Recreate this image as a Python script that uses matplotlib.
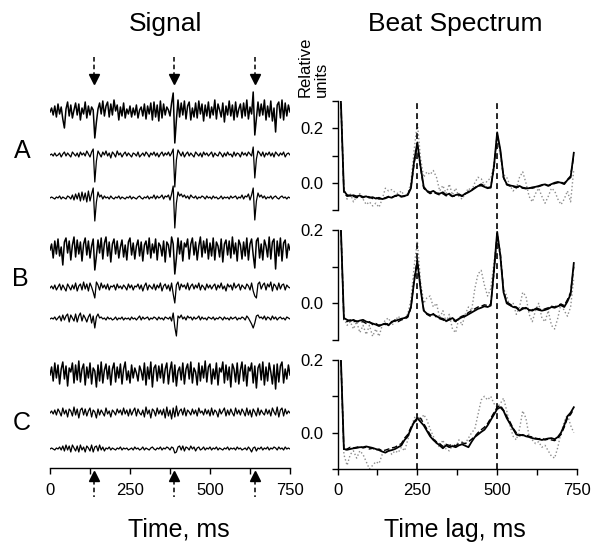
import numpy as np
import matplotlib
matplotlib.use('Agg')
import matplotlib.pyplot as plt

plt.rcParams['font.family'] = ['Liberation Sans', 'DejaVu Sans']

# ---- signal traces (5 ms per sample, amplitude in pixel-like units) ----
sig_t = np.arange(0, 751, 5)

a1 = [0, 4, -3, 6, -5, 8, -2, 5, -7, -16, 3, 10, -4, 7, -6, 2, 9, -3, 8, -8, 4, -2, 10, -6, 6,
      -3, 5, 2, -26, -10, 3, 9, -2, 11, -4, 6, 10, -5, 8, -3, 12, 1, 7, -8, 5, -4, 9, -6, 3, -2,
      6, -5, 4, -3, 7, -6, 2, 5, -4, 8, -7, 6, -2, 9, -8, 10, -5, 7, -9, 11, -6, 8, -3, 5, 2,
      -4, 9, 19, -31, -8, 12, -5, 9, -3, 11, -7, 6, 10, -8, 4, -5, 9, -6, 11, -2, 8, -9, 7, -4, 10,
      -6, 5, -3, 12, -7, 8, 2, -5, 9, -10, 6, -3, 11, -4, 7, -8, 10, -5, 3, 8, -6, 9, -4, 12, -7,
      5, -2, 20, -23, -6, 10, -4, 8, -3, 12, -8, 6, -5, 11, -9, 4, -20, 7, 10, -6, 12, -8, 9, -4, 7, 0]
a2 = [0, 1, -1, 2, -1, 0, 2, -2, 1, 3, -1, 2, 0, -2, 3, 1, -1, 2, -2, 3, 0, 2, -1, 4, 1,
      -2, 3, 6, -27, -6, 4, 1, -2, 3, 0, 4, -1, 2, -3, 3, 1, -2, 4, 0, 2, -2, 1, 3, -1, 2,
      0, -2, 2, 1, -1, 3, -2, 0, 2, -1, 3, 1, -2, 2, 0, 3, -1, 2, -2, 1, 3, -1, 2, 0, 3,
      -1, 2, 6, -32, -5, 5, 2, -1, 3, -2, 1, 3, -1, 2, 0, -2, 3, 1, -1, 2, -2, 3, 0, 2, -1,
      1, 3, -2, 2, 0, -1, 3, 1, -2, 2, -1, 3, 0, 1, -2, 3, -1, 2, 1, -2, 3, 0, 2, -1, 3,
      1, -1, 8, -23, -4, 4, 2, -1, 3, -2, 2, 0, 3, -1, 2, -2, 3, 1, -1, 2, 0, 3, -2, 1, 2, 0]
a3 = [0, 1, 0, -1, 1, 0, 2, -1, 1, 0, -1, 2, 1, -1, 3, -2, 4, -1, 5, -3, 6, -2, 5, -4, 7,
      -3, 4, 10, -23, -4, 6, 1, 3, -1, 2, 0, 1, -1, 2, 0, -1, 1, 0, 2, -1, 1, 0, -1, 1, 0,
      2, -1, 1, 0, -1, 1, 2, 0, -1, 1, 0, 2, -1, 1, 0, 3, -1, 2, 0, 1, 3, -1, 2, 1, 3,
      -2, 4, 12, -30, -5, 6, 2, 4, 1, 3, 0, 2, -1, 3, 1, 0, 2, -1, 1, 0, 2, 1, -1, 2, 0,
      1, -1, 2, 0, 1, -1, 0, 2, -1, 1, 0, 1, -1, 2, 0, 1, 2, -1, 1, 0, 3, -1, 2, 1, 4,
      -2, 3, 10, -22, -3, 5, 1, 3, 0, 2, -1, 1, 0, 2, -1, 1, 2, 0, -1, 1, 2, 0, 1, -1, 1, 0]
b1 = [0, 6, -8, 9, -4, 11, -6, 3, -15, 8, 12, -3, 9, -10, 5, 13, -7, 10, -4, 8, -11, 6, 12, -5, 9,
      -8, 4, 11, -20, -6, 10, -3, 12, -9, 7, 13, -6, 8, -12, 6, 11, -4, 9, -8, 3, 10, -7, 5, -10, 8,
      12, -5, 7, -9, 4, 10, -6, 8, -11, 5, 9, -4, 12, -8, 6, -3, 11, -10, 7, 4, -6, 9, -12, 8, 5,
      -7, 13, 6, -24, -8, 12, -4, 9, -11, 7, 3, 11, -9, 6, 12, -5, 8, -10, 4, 13, -7, 9, -3, 11, -9,
      7, -6, 12, -10, 8, 4, -7, 11, -12, 6, 10, -5, 9, -8, 13, -4, 7, -11, 10, 5, -9, 8, -6, 12, -10,
      6, 11, -5, -18, 9, 12, -8, 6, -10, 10, 4, -7, 13, -9, 8, 11, -19, 9, -6, 12, -11, 7, 10, -8, 6, 0]
b2 = [0, 2, -1, 3, -2, 1, 4, -2, 3, 0, -3, 4, 1, -2, 3, -1, 5, -3, 2, 4, -2, 6, -1, 4, -3,
      5, 1, -4, -10, 6, 3, -2, 5, 0, 3, -1, 4, -2, 2, 1, 3, -2, 4, 0, 2, -1, 3, 1, -2, 4,
      0, 3, -2, 2, 1, 4, -1, 3, -3, 2, 5, -2, 3, 1, -1, 4, -2, 3, 0, 5, -3, 2, 4, -1, 3,
      -3, 5, -6, -15, 3, 6, -2, 4, 1, 3, -1, 5, -2, 2, 4, -1, 3, 0, 5, -2, 3, 1, -2, 4, 0,
      3, -1, 2, 4, -2, 3, 0, 5, -1, 2, -3, 4, 1, 3, -2, 5, 0, 2, 4, -2, 3, 1, -1, 4, 2,
      -2, 5, -3, -8, -10, 4, 6, -1, 3, 5, -2, 4, 1, 6, -3, 4, 2, -2, 5, -1, 3, 4, -2, 3, 1, 0]
b3 = [0, 1, 0, 2, -1, 1, 3, -2, 4, -1, 3, 5, -3, 4, 1, -2, 5, -3, 3, 6, -2, 4, 1, -3, 2,
      5, -4, 3, -9, 2, 5, 1, 2, 0, 1, -1, 2, 0, 1, -1, 0, 2, -1, 1, 0, 2, -1, 1, 0, 1,
      -1, 2, 0, 1, -1, 1, 3, -1, 2, 0, 1, 2, -1, 1, 0, 2, 1, -1, 2, 0, 1, -1, 2, 1, 0,
      2, -2, 6, -8, -17, 3, 1, 4, 0, 2, -1, 3, 1, 2, -1, 2, 0, 1, 3, -1, 2, 0, 1, -1, 2,
      1, 0, 2, -1, 1, 0, 2, 1, -1, 2, 0, 1, -1, 2, 0, 1, 2, -1, 1, 0, 2, 1, -1, 3, 1,
      -2, -5, -9, -4, 3, 4, 1, 2, 0, 3, -1, 2, 1, -1, 3, 0, 2, -1, 1, 2, 0, 1, -1, 2, 1, 0]
c1 = [0, 8, -6, 12, -3, 10, -9, 6, 13, -4, 9, -11, 7, 3, 12, -8, 10, -5, 14, -7, 6, 11, -10, 8, -3,
      12, -9, 7, 4, -12, 10, -6, 13, -8, 5, 11, -4, 9, -10, 6, 12, -7, 8, -3, 11, -9, 6, 13, -5, 4,
      -8, 10, -3, 7, 2, -6, 9, 4, -5, 12, -10, 8, -4, 13, -12, 7, 10, -6, 9, -3, 11, -8, 6, 12, -9,
      5, 13, -7, 10, -11, 4, 8, -5, 12, -9, 6, 11, -4, 13, -8, 7, 3, -10, 12, -6, 9, -3, 14, -7, 8,
      11, -9, 6, -4, 12, -10, 7, 3, 13, -8, 10, -5, 8, -12, 11, 6, -7, 12, -9, 5, 13, -6, 10, -11, 8,
      4, 12, -8, 9, -13, 7, 11, -5, 13, -10, 8, -6, 12, 3, -9, 10, -14, 11, -7, 9, 13, -8, 6, -4, 10, 0]
c2 = [0, 2, -1, 3, -2, 4, 1, -3, 5, -1, 3, -4, 4, 2, -3, 6, -2, 4, -5, 3, 5, -2, 4, -3, 2,
      5, -4, 3, 1, -5, 4, -2, 3, 0, -3, 5, -1, 2, -4, 3, 1, -2, 4, 0, 3, -2, 5, -1, 3, -3,
      4, -2, 2, 5, -3, 4, 0, -2, 3, -4, 6, -1, 3, -5, 4, 2, -3, 5, -1, 3, -2, 4, -5, 6, -3,
      3, -6, 5, -4, 7, -3, 2, 4, -2, 5, -3, 3, 1, -2, 4, -1, 3, -3, 5, 0, 2, -2, 4, -1, 3,
      -3, 5, -2, 3, 1, -4, 4, -1, 2, 5, -3, 3, -2, 4, 0, -3, 5, -1, 3, -2, 4, 1, -3, 5, -2,
      3, -4, 4, 1, -3, 5, -2, 3, 0, -2, 4, -1, 3, -3, 5, 1, -2, 6, -4, 3, 5, -3, 4, -1, 2, 0]
c3 = [0, 1, 0, -1, 1, 0, 2, -1, 3, -2, 4, -1, 3, -3, 4, 1, -2, 3, -3, 4, -1, 2, -3, 3, 1,
      -2, 4, -3, 2, 3, -2, 4, -1, 2, -2, 1, 0, 2, -1, 1, 0, -1, 1, 0, 2, -1, 1, 0, 1, -1,
      0, 1, -1, 2, 0, 1, -1, 0, 2, -1, 1, 0, -1, 1, 2, 0, -1, 1, 0, 2, -1, 1, 0, 2, 1,
      -1, 2, 1, -4, -3, 2, 3, -1, 3, -2, 2, 1, -1, 3, 0, 2, -2, 1, 2, -1, 0, 2, -1, 1, 0,
      2, -1, 1, 0, 2, -1, 1, 0, -1, 1, 0, 2, -1, 1, 0, 1, -1, 2, 0, 1, -1, 0, 1, -1, 2,
      0, -3, 1, 2, -2, 1, 0, 2, -1, 1, 0, 2, -1, 1, 0, 2, 1, -1, 2, 0, 1, -1, 2, 0, 1, 0]

beat_marks = [139, 389, 640]
group_labels = ['A', 'B', 'C']

# ---- beat spectra (lag step 10 ms) ----
lag = np.arange(10, 741, 10)

spec_a_solid = [0.32, -0.03, -0.045, -0.048, -0.046, -0.05, -0.047, -0.052, -0.05, -0.055,
                -0.053, -0.058, -0.055, -0.06, -0.057, -0.052, -0.055, -0.048, -0.045, -0.05,
                -0.048, -0.045, -0.02, 0.08, 0.148, 0.06, -0.015, -0.03, -0.035, -0.03,
                -0.038, -0.04, -0.035, -0.045, -0.04, -0.05, -0.045, -0.042, -0.048, -0.04,
                -0.035, -0.028, -0.02, -0.012, -0.01, -0.015, -0.02, -0.018, 0.06, 0.185,
                0.12, 0.02, -0.005, -0.01, -0.012, -0.015, -0.012, -0.018, -0.02, -0.02,
                -0.017, -0.015, -0.012, -0.008, -0.006, -0.01, -0.005, 0.0, 0.003, 0.0,
                -0.005, 0.01, 0.02, 0.11]
spec_a_dash = [0.32, -0.035, -0.05, -0.045, -0.05, -0.055, -0.05, -0.055, -0.048, -0.052,
               -0.058, -0.055, -0.06, -0.058, -0.055, -0.05, -0.052, -0.05, -0.048, -0.052,
               -0.05, -0.042, -0.015, 0.07, 0.14, 0.055, -0.02, -0.032, -0.04, -0.035,
               -0.04, -0.045, -0.04, -0.048, -0.045, -0.05, -0.048, -0.045, -0.05, -0.042,
               -0.032, -0.025, -0.018, -0.01, -0.005, -0.012, -0.018, -0.015, 0.055, 0.178,
               0.115, 0.018, -0.008, -0.012, -0.015, -0.018, -0.015, -0.02, -0.022, -0.018,
               -0.02, -0.017, -0.014, -0.01, -0.008, -0.012, -0.008, -0.003, 0.0, 0.002,
               -0.002, 0.012, 0.025, 0.1]
spec_a_dot = [0.32, -0.02, -0.06, -0.04, -0.07, -0.05, -0.04, -0.06, -0.08, -0.07,
              -0.085, -0.075, -0.09, -0.06, -0.02, -0.03, -0.025, -0.035, -0.04, -0.03,
              -0.05, -0.04, 0.0, 0.12, 0.22, 0.09, 0.02, 0.04, 0.03, 0.045,
              0.02, -0.03, -0.01, -0.04, -0.005, -0.045, -0.02, -0.05, -0.06, -0.04,
              -0.02, -0.03, 0.0, 0.02, 0.015, -0.01, 0.01, 0.015, 0.07, 0.17,
              0.1, 0.03, 0.02, -0.01, -0.03, -0.02, 0.02, 0.04, 0.0, -0.05,
              -0.07, -0.04, -0.02, -0.05, -0.075, -0.05, -0.02, -0.03, -0.06, -0.08,
              -0.06, -0.03, -0.07, 0.05]

spec_b_solid = [0.22, -0.04, -0.045, -0.048, -0.045, -0.05, -0.047, -0.045, -0.05, -0.052,
                -0.055, -0.058, -0.062, -0.058, -0.055, -0.06, -0.05, -0.048, -0.045, -0.042,
                -0.04, -0.035, -0.01, 0.06, 0.115, 0.04, -0.02, -0.028, -0.032, -0.03,
                -0.035, -0.04, -0.042, -0.048, -0.045, -0.04, -0.048, -0.042, -0.038, -0.035,
                -0.03, -0.025, -0.02, -0.015, -0.012, -0.008, -0.01, -0.006, 0.09, 0.195,
                0.13, 0.03, 0.0, -0.005, -0.01, -0.012, -0.02, -0.015, -0.012, -0.018,
                -0.02, -0.015, -0.018, -0.02, -0.018, -0.015, -0.01, -0.012, -0.008, -0.005,
                -0.01, 0.005, 0.025, 0.11]
spec_b_dash = [0.22, -0.045, -0.05, -0.045, -0.05, -0.048, -0.052, -0.05, -0.055, -0.05,
               -0.058, -0.055, -0.06, -0.055, -0.058, -0.055, -0.052, -0.045, -0.05, -0.045,
               -0.043, -0.038, -0.012, 0.065, 0.12, 0.045, -0.018, -0.03, -0.035, -0.028,
               -0.038, -0.042, -0.045, -0.05, -0.042, -0.045, -0.05, -0.04, -0.035, -0.032,
               -0.025, -0.02, -0.015, -0.01, -0.008, -0.004, -0.006, -0.002, 0.085, 0.19,
               0.135, 0.035, 0.004, -0.002, -0.008, -0.01, -0.018, -0.012, -0.015, -0.02,
               -0.018, -0.012, -0.015, -0.018, -0.015, -0.012, -0.008, -0.01, -0.005, -0.002,
               -0.006, 0.01, 0.03, 0.1]
spec_b_dot = [0.22, -0.04, -0.06, -0.05, -0.07, -0.05, -0.08, -0.06, -0.085, -0.06,
              -0.09, -0.07, -0.09, -0.06, -0.045, -0.04, -0.06, -0.05, -0.035, -0.045,
              -0.04, -0.03, 0.01, 0.1, 0.17, 0.06, 0.0, 0.015, 0.02, -0.01,
              0.0, -0.04, -0.02, -0.05, -0.03, -0.07, -0.08, -0.04, -0.06, -0.03,
              -0.01, -0.02, 0.04, 0.08, 0.09, 0.05, 0.02, 0.04, 0.11, 0.18,
              0.12, 0.04, 0.02, -0.01, 0.0, -0.03, -0.01, 0.03, 0.02, -0.03,
              -0.05, -0.02, 0.0, -0.04, -0.05, -0.02, -0.06, -0.07, -0.04, 0.0,
              -0.02, -0.035, -0.01, 0.07]

spec_c_solid = [0.22, -0.045, -0.047, -0.045, -0.043, -0.042, -0.04, -0.04, -0.038, -0.04,
                -0.042, -0.045, -0.048, -0.052, -0.055, -0.05, -0.048, -0.045, -0.04, -0.035,
                -0.02, -0.01, 0.01, 0.03, 0.04, 0.03, 0.02, 0.005, -0.01, -0.02,
                -0.028, -0.035, -0.043, -0.035, -0.04, -0.037, -0.04, -0.035, -0.032, -0.036,
                -0.04, -0.025, -0.012, -0.005, 0.002, 0.008, 0.02, 0.035, 0.05, 0.065,
                0.07, 0.06, 0.04, 0.025, 0.01, -0.005, -0.008, -0.006, -0.01, -0.012,
                -0.015, -0.017, -0.018, -0.02, -0.018, -0.016, -0.015, -0.018, -0.012, 0.0,
                0.02, 0.045, 0.055, 0.07]
spec_c_dash = [0.22, -0.05, -0.045, -0.04, -0.042, -0.04, -0.038, -0.042, -0.04, -0.045,
               -0.043, -0.048, -0.045, -0.05, -0.048, -0.045, -0.042, -0.04, -0.035, -0.03,
               -0.015, -0.005, 0.015, 0.028, 0.035, 0.04, 0.025, 0.01, -0.005, -0.018,
               -0.025, -0.03, -0.038, -0.032, -0.035, -0.033, -0.036, -0.03, -0.028, -0.03,
               -0.025, -0.018, -0.01, 0.0, 0.008, 0.015, 0.025, 0.04, 0.055, 0.07,
               0.075, 0.062, 0.045, 0.03, 0.012, 0.0, -0.005, -0.008, -0.006, -0.01,
               -0.012, -0.015, -0.017, -0.015, -0.02, -0.018, -0.02, -0.022, -0.015, -0.005,
               0.015, 0.04, 0.05, 0.065]
spec_c_dot = [0.22, -0.06, -0.09, -0.06, -0.05, -0.07, -0.05, -0.06, -0.08, -0.1,
              -0.09, -0.08, -0.085, -0.06, -0.05, -0.045, -0.06, -0.05, -0.055, -0.04,
              -0.05, -0.02, 0.01, 0.04, 0.05, 0.03, 0.05, 0.035, 0.01, -0.01,
              -0.03, -0.04, -0.02, -0.045, -0.05, -0.035, -0.04, -0.02, -0.025, -0.03,
              -0.015, 0.0, 0.01, 0.05, 0.09, 0.1, 0.09, 0.1, 0.08, 0.07,
              0.08, 0.095, 0.06, 0.02, -0.01, -0.02, 0.01, 0.06, 0.04, -0.01,
              -0.02, -0.03, -0.025, -0.04, -0.035, -0.05, -0.065, -0.07, -0.04, 0.0,
              0.03, 0.05, 0.02, 0.0]

W, H = 592, 544


def box(x0, y0, x1, y1):
    # pixel box (top-left origin) -> figure fraction rect
    return [x0 / W, 1 - y1 / H, (x1 - x0) / W, (y1 - y0) / H]


fig = plt.figure(figsize=(W / 100, H / 100), dpi=100)

# ---------------- left: signals ----------------
ax = fig.add_axes(box(50, 50, 290, 468))
ax.set_xlim(0, 750)
ax.set_ylim(0, 418)
traces = [a1, a2, a3, b1, b2, b3, c1, c2, c3]
rows_px = [112, 155, 198, 250, 288, 319, 375, 413, 449]
widths = [1.1, 0.9, 0.9, 1.1, 0.9, 0.9, 1.1, 0.9, 0.9]
for tr, row, lw in zip(traces, rows_px, widths):
    ax.plot(sig_t, np.array(tr) + (468 - row), color='black', lw=lw)

for t in beat_marks:
    # top arrows
    ax.plot([t, t], [411, 392], color='black', lw=1.1, ls=(0, (3, 2)), clip_on=False)
    ax.plot(t, 389, marker='v', color='black', ms=6.5, clip_on=False)
    # bottom arrows
    ax.plot([t, t], [-12, -29], color='black', lw=1.1, ls=(0, (3, 2)), clip_on=False)
    ax.plot(t, -8, marker='^', color='black', ms=6.5, clip_on=False)

for s in ['left', 'top', 'right']:
    ax.spines[s].set_visible(False)
ax.spines['bottom'].set_linewidth(1.0)
ax.set_yticks([])
ax.set_xticks(np.arange(0, 751, 125))
ax.set_xticklabels(['0', '', '250', '', '500', '', '750'])
ax.tick_params(axis='x', labelsize=12, length=4, width=1, pad=7)

for lab, ypx, xpx in zip(group_labels, [158, 286, 430], [22, 20, 22]):
    fig.text(xpx / W, 1 - ypx / H, lab, fontsize=18, ha='center', va='baseline')

# ---------------- right: beat spectra ----------------
spectra = [(spec_a_solid, spec_a_dash, spec_a_dot),
           (spec_b_solid, spec_b_dash, spec_b_dot),
           (spec_c_solid, spec_c_dash, spec_c_dot)]
panels = [(101, 210, 0.3), (230, 340, 0.2), (360, 469, 0.2)]

for i, ((sol, dsh, dot), (top, bot, ymax)) in enumerate(zip(spectra, panels)):
    sa = fig.add_axes(box(337.5, top, 577, bot))
    sa.plot(lag, dot, color='#8c8c8c', lw=1.0, ls=':')
    sa.plot(lag, dsh, color='black', lw=1.0, ls=(0, (4, 2)))
    sa.plot(lag, sol, color='black', lw=1.3)
    sa.set_xlim(0, 750)
    sa.set_ylim(-0.1, ymax)
    for s in ['top', 'right']:
        sa.spines[s].set_visible(False)
    sa.spines['left'].set_linewidth(1.0)
    yt = [-0.1, 0.0, 0.1, 0.2] + ([0.3] if ymax > 0.25 else [])
    sa.set_yticks(yt)
    sa.set_yticklabels(['' if abs(v - 0.0) > 1e-9 and abs(v - 0.2) > 1e-9 else '%.1f' % v for v in yt])
    sa.tick_params(axis='y', labelsize=12, length=4, width=1, pad=6)
    if i < 2:
        sa.spines['bottom'].set_visible(False)
        sa.set_xticks([])
    else:
        sa.spines['bottom'].set_linewidth(1.0)
        sa.set_xticks(np.arange(0, 751, 125))
        sa.set_xticklabels(['0', '', '250', '', '500', '', '750'])
        sa.tick_params(axis='x', labelsize=12, length=4, width=1, pad=6)

# vertical dashed guides across all three spectra
ov = fig.add_axes(box(337.5, 101, 577, 469))
ov.set_xlim(0, 750)
ov.set_ylim(0, 1)
ov.axis('off')
for t in [250, 500]:
    ov.axvline(t, color='black', lw=1.2, ls=(0, (3.5, 2.5)))

# ---------------- text ----------------
fig.text(166 / W, 1 - 31.5 / H, 'Signal', fontsize=19, ha='center', va='baseline')
fig.text(455 / W, 1 - 31.5 / H, 'Beat Spectrum', fontsize=19, ha='center', va='baseline')
fig.text(179 / W, 1 - 537 / H, 'Time, ms', fontsize=18, ha='center', va='baseline')
fig.text(455 / W, 1 - 537 / H, 'Time lag, ms', fontsize=18, ha='center', va='baseline')
fig.text(313 / W, 1 - 97 / H, 'Relative\nunits', fontsize=12, rotation=90,
         ha='center', va='bottom', multialignment='left', linespacing=1.1)

fig.savefig('out.png', dpi=100)
